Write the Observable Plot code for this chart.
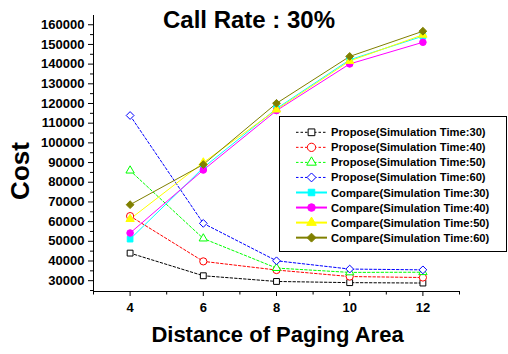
<!DOCTYPE html>
<html><head><meta charset="utf-8">
<script src="https://cdn.jsdelivr.net/npm/d3@7"></script>
<script src="https://cdn.jsdelivr.net/npm/@observablehq/plot@0.6"></script>
<style>
body{margin:0;background:#fff}
#chart{position:relative;width:508px;height:354px;overflow:hidden}
</style>
</head><body><div id="chart"></div>
<script>
// ---- data ----
const distances = [4, 6, 8, 10, 12];
const propose30 = [44000, 32500, 29600, 29000, 28800];
const propose40 = [62800, 39800, 35400, 32100, 31600];
const propose50 = [85900, 51400, 36400, 34200, 34300];
const propose60 = [113900, 59100, 40100, 35900, 35500];
const compare30 = [51100, 87400, 117400, 142200, 154200];
const compare40 = [54200, 86200, 116400, 140100, 151100];
const compare50 = [61300, 90000, 116900, 141600, 154900];
const compare60 = [68600, 89000, 120100, 143900, 156700];
const seriesNames = [
  "Propose(Simulation Time:30)", "Propose(Simulation Time:40)",
  "Propose(Simulation Time:50)", "Propose(Simulation Time:60)",
  "Compare(Simulation Time:30)", "Compare(Simulation Time:40)",
  "Compare(Simulation Time:50)", "Compare(Simulation Time:60)"
];
const yTickValues = [30000, 40000, 50000, 60000, 70000, 80000, 90000, 100000, 110000, 120000, 130000, 140000, 150000, 160000];
const yMinorValues = [25000, 35000, 45000, 55000, 65000, 75000, 85000, 95000, 105000, 115000, 125000, 135000, 145000, 155000];
const xTickValues = [4, 6, 8, 10, 12];
const xMinorValues = [3, 5, 7, 9, 11, 13];
const titleText = "Call Rate : 30%";
const xLabel = "Distance of Paging Area";
const yLabel = "Cost";

// ---- styles ----
const styles = [
  {color: "#000000", symbol: "square", r: 3.3, open: true},
  {color: "#ff0000", symbol: "circle", r: 3.6, open: true},
  {color: "#00ff00", symbol: "triangle", r: 3.1, open: true},
  {color: "#0000ff", symbol: "diamond2", r: 3.5, open: true},
  {color: "#00ffff", symbol: "square", r: 3.2, open: false},
  {color: "#ff00ff", symbol: "circle", r: 3.3, open: false},
  {color: "#ffff00", symbol: "triangle", r: 3.1, open: false},
  {color: "#808000", symbol: "diamond2", r: 3.5, open: false}
];
const seriesValues = [propose30, propose40, propose50, propose60, compare30, compare40, compare50, compare60];
const series = seriesValues.map((vals, k) => ({
  name: seriesNames[k], ...styles[k],
  data: distances.map((d, i) => ({x: d, y: vals[i]}))
}));

const font = "Arial, 'Liberation Sans', sans-serif";
const yMin = 24500, yMax = 164700, xMin = 3, xMax = 13;
const dash = "2.5,2";

const marks = [
  Plot.ruleX([xMin], {y1: yMin, y2: yMax, stroke: "black", strokeWidth: 1}),
  Plot.ruleY([yMin], {x1: xMin, x2: xMax, stroke: "black", strokeWidth: 1}),
  Plot.axisY({ticks: yTickValues, tickSize: 5, tickPadding: 4, tickFormat: d => String(d), label: null, strokeWidth: 1}),
  Plot.axisY({ticks: yMinorValues, tickSize: 3, tickFormat: () => "", label: null, strokeWidth: 1}),
  Plot.axisX({ticks: xTickValues, tickSize: 5, tickPadding: 6, tickFormat: d => String(d), label: null, strokeWidth: 1}),
  Plot.axisX({ticks: xMinorValues, tickSize: 3.5, tickFormat: () => "", label: null, strokeWidth: 1})
];
for (const s of series) {
  marks.push(Plot.line(s.data, {x: "x", y: "y", stroke: s.color, strokeWidth: 1,
    strokeDasharray: s.open ? dash : null}));
}
for (const s of series) {
  marks.push(Plot.dot(s.data, {x: "x", y: "y", symbol: s.symbol, r: s.r,
    stroke: s.color, strokeWidth: 1, fill: s.open ? "white" : s.color}));
}

const svg = Plot.plot({
  width: 508, height: 354,
  marginLeft: 93, marginRight: 49, marginTop: 15, marginBottom: 63,
  style: {fontFamily: font, fontSize: "13px", fontWeight: "bold", color: "black", background: "white", overflow: "visible"},
  x: {domain: [xMin, xMax]},
  y: {domain: [yMin, yMax]},
  marks
});
document.getElementById("chart").appendChild(svg);

const sel = d3.select(svg);
sel.append("text").text(titleText)
  .attr("x", 249).attr("y", 28).attr("text-anchor", "middle")
  .attr("font-family", font).attr("font-size", 24).attr("font-weight", "bold").attr("fill", "black");
sel.append("text").text(xLabel)
  .attr("x", 277.5).attr("y", 341.5).attr("text-anchor", "middle")
  .attr("font-family", font).attr("font-size", 22).attr("font-weight", "bold").attr("fill", "black");
sel.append("text").text(yLabel)
  .attr("transform", "translate(29,171) rotate(-90)").attr("text-anchor", "middle")
  .attr("font-family", font).attr("font-size", 26).attr("font-weight", "bold").attr("fill", "black");

// ---- legend ----
const lg = sel.append("g");
lg.append("rect").attr("x", 279.5).attr("y", 116.5).attr("width", 227).attr("height", 135)
  .attr("fill", "white").attr("stroke", "black").attr("stroke-width", 1);
const symMap = {square: d3.symbolSquare, circle: d3.symbolCircle, triangle: d3.symbolTriangle, diamond2: d3.symbolDiamond2};
series.forEach((s, i) => {
  const cy = 132.3 + i * 15.05;
  lg.append("line").attr("x1", 296).attr("x2", 327).attr("y1", cy).attr("y2", cy)
    .attr("stroke", s.color).attr("stroke-width", s.open ? 1 : 2)
    .attr("stroke-dasharray", s.open ? dash : null);
  const rr = s.r * 1.15;
  lg.append("path").attr("d", d3.symbol(symMap[s.symbol], Math.PI * rr * rr)())
    .attr("transform", `translate(311.5,${cy})`)
    .attr("fill", s.open ? "white" : s.color).attr("stroke", s.color).attr("stroke-width", 1);
  lg.append("text").text(s.name).attr("x", 331).attr("y", cy + 4).attr("text-anchor", "start")
    .attr("font-family", font).attr("font-size", 11.2).attr("font-weight", "bold").attr("fill", "black");
});
</script>
</body></html>
